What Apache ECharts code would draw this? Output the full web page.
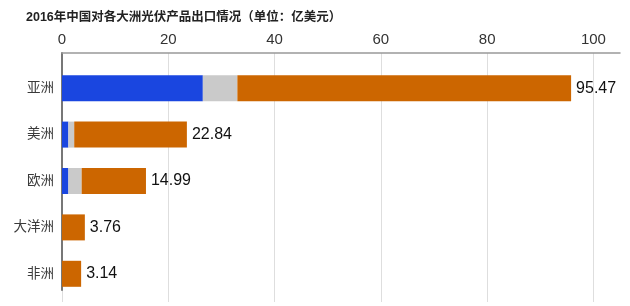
<!DOCTYPE html>
<html>
<head>
<meta charset="utf-8">
<script src="https://cdn.jsdelivr.net/npm/echarts@6/dist/echarts.min.js"></script>
<style>html,body{margin:0;padding:0;background:#fff}#c{width:630px;height:306px}</style>
</head>
<body>
<div id="c"></div>
<script>
var titleText = '2016年中国对各大洲光伏产品出口情况（单位：亿美元）';
var categories = ['亚洲', '美洲', '欧洲', '大洋洲', '非洲'];
var blueValues = [26.5, 1.2, 1.2, 0, 0];
var grayValues = [6.5, 1.1, 2.5, 0, 0];
var orangeValues = [62.8, 21.2, 12.1, 4.3, 3.6];
var totalLabels = ['95.47', '22.84', '14.99', '3.76', '3.14'];
var xTicks = [0, 20, 40, 60, 80, 100];

var font = 'Liberation Sans, Arial, Helvetica, sans-serif';
var cjk = 'Liberation Sans, "Noto Sans CJK SC", sans-serif';

var chart = echarts.init(document.getElementById('c'));
chart.setOption({
  animation: false,
  title: {
    text: titleText, left: 21, top: 6,
    textStyle: { fontSize: 12.5, fontWeight: 'bold', color: '#222', fontFamily: cjk }
  },
  grid: [
    { left: 62, right: 10, top: 53, bottom: 4 },
    { left: 62, right: 10, top: 53, bottom: 16 },
    { left: 62, right: 10, top: 65, bottom: 9 }
  ],
  xAxis: [
    {
      gridIndex: 0, type: 'value', position: 'top', min: xTicks[0], max: 105, interval: xTicks[1] - xTicks[0],
      axisLine: { show: true, lineStyle: { color: '#999', width: 1.5 } },
      axisTick: { show: false },
      axisLabel: { fontSize: 15, color: '#333', margin: 6, fontFamily: font, showMaxLabel: false },
      splitLine: { show: true, showMaxLine: false, lineStyle: { color: '#dedede', width: 1 } }
    },
    { gridIndex: 1, type: 'value', min: 0, max: 105, show: false },
    { gridIndex: 2, type: 'value', min: 0, max: 105, show: false }
  ],
  yAxis: [
    { gridIndex: 0, type: 'category', data: categories, show: false },
    {
      gridIndex: 1, type: 'category', data: categories, inverse: true,
      axisLine: { show: true, lineStyle: { color: '#777', width: 2 } },
      axisTick: { show: false }, axisLabel: { show: false }, splitLine: { show: false }
    },
    {
      gridIndex: 2, type: 'category', data: categories, inverse: true,
      axisLine: { show: false }, axisTick: { show: false },
      axisLabel: { fontSize: 13.5, color: '#3a3a3a', margin: 8, fontFamily: cjk }
    }
  ],
  series: [
    { type: 'bar', xAxisIndex: 2, yAxisIndex: 2, stack: 's', barWidth: 26, data: blueValues, itemStyle: { color: '#1a46e0' } },
    { type: 'bar', xAxisIndex: 2, yAxisIndex: 2, stack: 's', barWidth: 26, data: grayValues, itemStyle: { color: '#cacaca' } },
    {
      type: 'bar', xAxisIndex: 2, yAxisIndex: 2, stack: 's', barWidth: 26, data: orangeValues, itemStyle: { color: '#cc6600' },
      label: {
        show: true, position: 'right', distance: 5, fontSize: 16, color: '#111', fontFamily: font,
        formatter: function (p) { return totalLabels[p.dataIndex]; }
      }
    }
  ]
});
</script>
</body>
</html>
